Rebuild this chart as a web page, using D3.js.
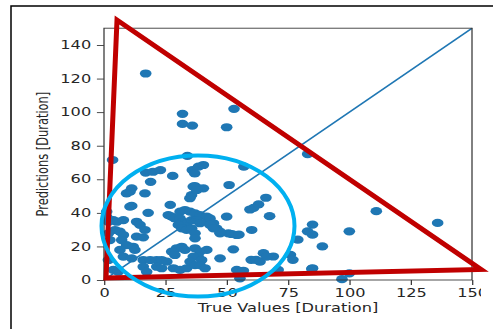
<!DOCTYPE html>
<html>
<head>
<meta charset="utf-8">
<script src="https://cdn.jsdelivr.net/npm/d3@7"></script>
<style>
  body { margin: 0; background: #fff; }
</style>
</head>
<body>
<script>
// Figure size
const w = 493;
const h = 329;
const sx = 1.42;          // the original picture is stretched sideways
const cropW = 481;        // the chart image is cut off here

// Data: true duration vs predicted duration
const trueVals = [17, 3.5, 32, 32, 36, 53, 50, 83, 111, 136, 100, 85, 83, 85, 89, 79, 76, 77, 69, 65,
  60, 62, 85, 100, 71, 66, 63, 61, 59.5, 67.5, 34, 17, 20, 23, 28, 36, 38.5, 40.5, 37, 57,
  51, 37, 38.5, 19, 11.3, 10.6, 9.2, 16.7, 35, 35.7, 27, 11.3, 18, 3.8, 5.2, 7.9, 4.5, 6.5, 7.9, 7.2,
  13.3, 16, 9.2, 11.9, 12.6, 6.5, 7.9, 11.3, 3.8, 5.8, 16, 18.8, 21.5, 23.5, 25.6, 16, 17.4, 21.5, 23.5, 28.3,
  31, 33.7, 29.6, 31.7, 33, 27.6, 28.9, 37.1, 39.1, 38.4, 36.4, 39.8, 35.1, 37.1, 39.1, 41.2, 41.9, 47.3, 52.7, 55.4,
  63.6, 66.3, 54.1, 56.8, 26.2, 27.6, 28.9, 31, 33, 35.1, 37.1, 39.1, 41.9, 31, 32.3, 33.7, 35.7, 37.8, 39.1, 30.3,
  31.7, 33.7, 35.7, 37.1, 37.1, 41.9, 44.6, 45.9, 47.3, 50.7, 54.1, 50, 43.2, 60.2, 1.1, 1.1, 1.8, 1.8, 2.4, 1.8,
  13.3, 14.7, 16.7, 40.5, 52.1, 47.3, 43.2, 44.6, 10.6, 36.4, 37.8, 84.7, 97, 55];
const predVals = [123, 71.5, 99, 93, 92, 102, 91, 75, 41, 34, 29, 33, 29, 27, 20, 24, 15, 12, 14, 16,
  12, 12, 7, 4, 6, 49, 45, 43, 42, 38, 74, 64, 64.5, 65.5, 62, 65.5, 67.5, 68.5, 63.5, 67.5,
  56.6, 56, 54.6, 58.5, 54.6, 52.6, 51.6, 51.6, 48.7, 50.6, 44.7, 44.1, 40, 35.7, 34.7, 35.7, 29.8, 28.8, 26.8, 23.8,
  25.8, 25.4, 20.8, 19.8, 17.9, 17.9, 13.9, 12.9, 6, 4.9, 11.9, 11.9, 11.9, 11.9, 10.9, 7.9, 4.9, 7.9, 7, 7,
  6, 7, 18.9, 19.8, 17.9, 16.9, 14.9, 18.9, 16.9, 13.9, 13.9, 11.9, 10.9, 8.9, 8.9, 7, 17.9, 12.9, 18.3, 1,
  10.9, 13.9, 6, 5.5, 38.7, 37.7, 36.7, 40.7, 41.7, 40.7, 39.7, 38.7, 37.7, 36.7, 34.7, 33.8, 35.7, 35.7, 33.8, 32.8,
  30.8, 29.8, 30.8, 27.8, 24.8, 34.7, 33.8, 30.8, 27.8, 27.8, 26.8, 37.7, 36.7, 29.8, 40.7, 37.7, 34.7, 27.8, 23.8, 11.9,
  34.7, 32.8, 29.8, 54.6, 27.4, 28.8, 32.8, 30.8, 43.7, 55.6, 53.6, 6.6, 0.5, 27];
const xTicks = [0, 25, 50, 75, 100, 125, 150];
const yTicks = [0, 20, 40, 60, 80, 100, 120, 140];

// Plot box in unstretched units
const plotLeft = 104 / sx;
const plotRight = 472 / sx;
const plotTop = 28.2;
const plotBottom = 280;
const font = "DejaVu Sans";
const fs = 11.4;

const svg = d3.select("body")
  .append("svg")
  .attr("width", w)
  .attr("height", h);

// Chart drawn in its own coordinates, then stretched
const chart = svg.append("svg")
  .attr("x", 0)
  .attr("y", 0)
  .attr("width", cropW)
  .attr("height", h)
  .attr("viewBox", `0 0 ${cropW / sx} ${h}`)
  .attr("preserveAspectRatio", "none");

const xScale = d3.scaleLinear().domain([0, 150]).range([plotLeft, plotRight]);
const yScale = d3.scaleLinear().domain([0, 150]).range([plotBottom, plotTop]);

// Points
chart.append("g")
  .selectAll("circle")
  .data(trueVals.map((t, i) => [t, predVals[i]]))
  .join("circle")
  .attr("cx", d => xScale(d[0]))
  .attr("cy", d => yScale(d[1]))
  .attr("r", 4.1)
  .attr("fill", "#1f77b4");

// Identity line
chart.append("line")
  .attr("x1", xScale(0))
  .attr("y1", yScale(0))
  .attr("x2", xScale(150))
  .attr("y2", yScale(150))
  .attr("stroke", "#1f77b4")
  .attr("stroke-width", 1.4);

// Spines
chart.append("rect")
  .attr("x", plotLeft)
  .attr("y", plotTop)
  .attr("width", plotRight - plotLeft)
  .attr("height", plotBottom - plotTop)
  .attr("fill", "none")
  .attr("stroke", "#3a3a3a")
  .attr("stroke-width", 0.9);

// Axes
const xAxis = d3.axisBottom(xScale).tickValues(xTicks).tickSize(5).tickSizeOuter(0).tickPadding(3.5);
const yAxis = d3.axisLeft(yScale).tickValues(yTicks).tickSize(5).tickSizeOuter(0).tickPadding(4);

const gx = chart.append("g")
  .attr("transform", `translate(0, ${plotBottom})`)
  .call(xAxis);
const gy = chart.append("g")
  .attr("transform", `translate(${plotLeft}, 0)`)
  .call(yAxis);

[gx, gy].forEach(g => {
  g.select(".domain").remove();
  g.selectAll("line").attr("stroke", "#3a3a3a").attr("stroke-width", 0.9);
  g.selectAll("text")
    .attr("font-family", font)
    .attr("font-size", fs)
    .attr("fill", "#262626");
});

// Axis labels
chart.append("text")
  .attr("x", (plotLeft + plotRight) / 2)
  .attr("y", 312)
  .attr("text-anchor", "middle")
  .attr("font-family", font)
  .attr("font-size", fs)
  .attr("fill", "#262626")
  .text("True Values [Duration]");

chart.append("text")
  .attr("transform", `translate(34, ${(plotTop + plotBottom) / 2}) rotate(-90)`)
  .attr("text-anchor", "middle")
  .attr("font-family", font)
  .attr("font-size", fs)
  .attr("fill", "#262626")
  .text("Predictions [Duration]");

// Frame around the pasted picture
svg.append("path")
  .attr("d", `M11,${h} L11,6 L${w},6`)
  .attr("fill", "none")
  .attr("stroke", "#000")
  .attr("stroke-width", 1.5);

// Hand-drawn highlight: red triangle
svg.append("polygon")
  .attr("points", "117,20 106,278 481,269.5")
  .attr("fill", "none")
  .attr("stroke", "#c00000")
  .attr("stroke-width", 5)
  .attr("stroke-linejoin", "miter");

// Hand-drawn highlight: blue ellipse
svg.append("ellipse")
  .attr("cx", 198)
  .attr("cy", 226)
  .attr("rx", 96.5)
  .attr("ry", 70.5)
  .attr("fill", "none")
  .attr("stroke", "#00b0f0")
  .attr("stroke-width", 4);
</script>
</body>
</html>
